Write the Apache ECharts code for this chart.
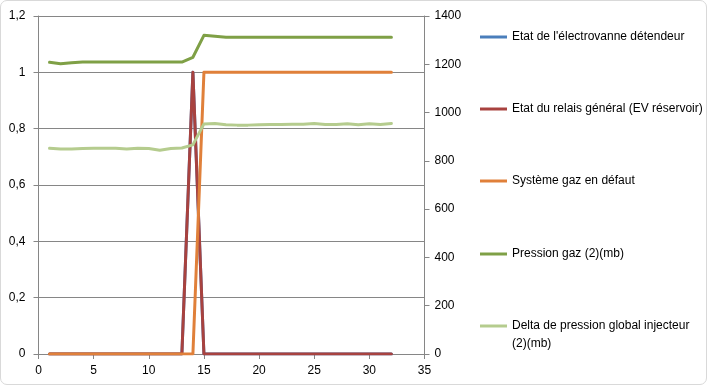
<!DOCTYPE html>
<html>
<head>
<meta charset="utf-8">
<script src="https://cdn.jsdelivr.net/npm/echarts@6/dist/echarts.min.js"></script>
<style>
html,body{margin:0;padding:0;background:#fff;}
#wrap{position:absolute;left:0;top:0;width:707px;height:385px;box-sizing:border-box;border:1px solid #d9d9d9;border-radius:7px;}
#chart{position:absolute;left:0;top:0;width:707px;height:385px;}
</style>
</head>
<body>
<div id="wrap"></div>
<div id="chart"></div>
<script>
const xValues = [1,2,3,4,5,6,7,8,9,10,11,12,13,14,15,16,17,18,19,20,21,22,23,24,25,26,27,28,29,30,31,32];
const seriesNames = [
  "Etat de l'électrovanne détendeur",
  "Etat du relais général (EV réservoir)",
  "Système gaz en défaut",
  "Pression gaz (2)(mb)",
  "Delta de pression global injecteur (2)(mb)"
];
const etatElectrovanne = [0,0,0,0,0,0,0,0,0,0,0,0,0,1,0,0,0,0,0,0,0,0,0,0,0,0,0,0,0,0,0,0];
const etatRelais       = [0,0,0,0,0,0,0,0,0,0,0,0,0,1,0,0,0,0,0,0,0,0,0,0,0,0,0,0,0,0,0,0];
const systemeDefaut    = [0,0,0,0,0,0,0,0,0,0,0,0,0,0,1,1,1,1,1,1,1,1,1,1,1,1,1,1,1,1,1,1];
const pressionGaz      = [1208,1202,1206,1209,1209,1209,1209,1209,1209,1209,1209,1209,1209,1229,1320,1316,1312,1312,1312,1312,1312,1312,1312,1312,1312,1312,1312,1312,1312,1312,1312,1312];
const deltaPression    = [852,849,849,851,852,852,852,849,852,851,844,851,853,866,953,955,950,948,948,950,951,951,952,952,955,951,951,954,950,954,951,955];
const leftTicks = [0,0.2,0.4,0.6,0.8,1,1.2];
const rightTicks = [0,200,400,600,800,1000,1200,1400];
const xTicks = [0,5,10,15,20,25,30,35];

const colors = ['#4A7EBB','#A8423F','#E0803A','#7FA046','#B5CC8E'];
const pairs = arr => xValues.map((x,i)=>[x,arr[i]]);
const FONT = 'Liberation Sans';
const axisGray = '#868686';

const chart = echarts.init(document.getElementById('chart'), null, {renderer:'canvas'});
const mk = (i, arr, yIdx) => ({
  name: seriesNames[i], type:'line', yAxisIndex:yIdx, data: pairs(arr),
  showSymbol:false, symbol:'none', smooth:false,
  lineStyle:{width:3, color:colors[i], cap:'round', join:'round'},
  itemStyle:{color:colors[i]}, z: 2+i, animation:false
});
const legendCenters = [35, 107, 179, 252, 325];
const legends = seriesNames.map((n,i)=>{
  const last = i === seriesNames.length-1;
  return {
    orient:'vertical', left:475, top: last ? legendCenters[i]-31 : legendCenters[i]-10,
    icon:'rect', itemWidth:27, itemHeight:3, selectedMode:false,
    textStyle: last
      ? {fontSize:12, fontFamily:FONT, color:'#000', lineHeight:18}
      : {fontSize:12, fontFamily:FONT, color:'#000', lineHeight:14},
    data:[{name:n}],
    formatter: last ? () => ' \nDelta de pression global injecteur\n(2)(mb)' : undefined
  };
});
chart.setOption({
  animation:false,
  textStyle:{fontFamily:FONT},
  grid:{left:38.5, right:282.5, top:16, bottom:31, containLabel:false},
  xAxis:{type:'value', min:xTicks[0], max:xTicks[xTicks.length-1], interval:5,
    axisLine:{show:true, onZero:false, lineStyle:{color:axisGray,width:1}},
    axisTick:{show:true, inside:false, length:5, lineStyle:{color:axisGray}},
    axisLabel:{color:'#000', fontSize:12, fontFamily:FONT, margin:11},
    splitLine:{show:false}},
  yAxis:[
    {type:'value', min:leftTicks[0], max:leftTicks[leftTicks.length-1], interval:0.2, position:'left',
     axisLine:{show:true, lineStyle:{color:axisGray}},
     axisTick:{show:true, length:5, lineStyle:{color:axisGray}},
     axisLabel:{color:'#000', fontSize:12, fontFamily:FONT, margin:13,
       formatter:v=>String(Number(v.toFixed(1))).replace('.',',')},
     splitLine:{show:true, lineStyle:{color:axisGray, width:1}}},
    {type:'value', min:rightTicks[0], max:rightTicks[rightTicks.length-1], interval:200, position:'right',
     axisLine:{show:true, lineStyle:{color:axisGray}},
     axisTick:{show:true, length:5, lineStyle:{color:axisGray}},
     axisLabel:{color:'#000', fontSize:12, fontFamily:FONT, margin:10, formatter:v=>String(v)},
     splitLine:{show:false}}
  ],
  legend: legends,
  series:[
    mk(0, etatElectrovanne, 0),
    mk(1, etatRelais, 0),
    mk(2, systemeDefaut, 0),
    mk(3, pressionGaz, 1),
    mk(4, deltaPression, 1)
  ]
});
</script>
</body>
</html>
